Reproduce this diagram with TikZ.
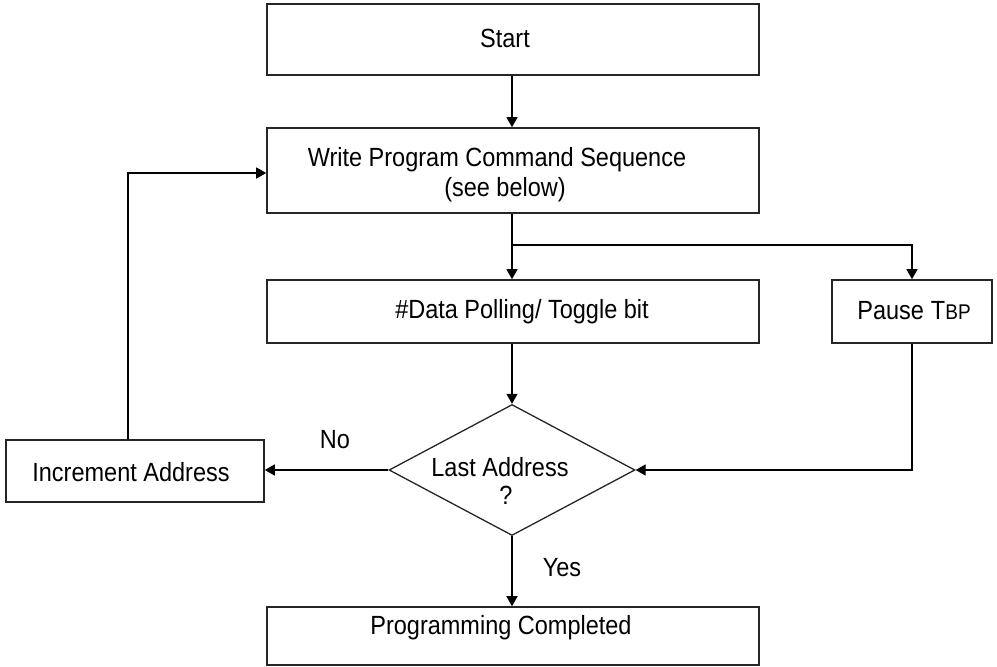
\documentclass[tikz,border=0pt]{standalone}
\usepackage{fontspec}
\usepackage{graphicx}
\setmainfont{Liberation Sans}
\usetikzlibrary{arrows.meta,shapes.geometric}
\newcommand{\tallt}[1]{\scalebox{1}[1.12]{#1}}
\begin{document}
\begin{tikzpicture}[x=1pt,y=-1pt,
  box/.style={draw=black!85, line width=1.6pt, rectangle, inner sep=0pt},
  conn/.style={line width=1.3pt, -{Triangle[length=10pt,width=11pt]}},
  plainline/.style={line width=1.3pt},
  txt/.style={inner sep=0pt, font=\fontsize{23.5pt}{28pt}\selectfont}]
\useasboundingbox (0,0) rectangle (997,667);
% boxes
\node[box, minimum width=492pt, minimum height=71pt] (start) at (513,39.5) {};
\node[box, minimum width=492pt, minimum height=85pt] (write) at (513,170.5) {};
\node[box, minimum width=492pt, minimum height=63pt] (data) at (513,311.5) {};
\node[box, minimum width=160pt, minimum height=63pt] (pause) at (912,311.5) {};
\node[diamond, draw=black!85, line width=1.3pt, minimum width=246pt, minimum height=131pt, inner sep=0pt] (dec) at (512,470) {};
\node[box, minimum width=258pt, minimum height=62pt] (incr) at (135,471) {};
\node[box, minimum width=492pt, minimum height=58pt] (prog) at (513,636) {};
% texts
\node[txt] (tstart) at (505,38) {\tallt{Start}};
\node[txt] (twrite1) at (497,160) {\tallt{Write Program Command Sequence}};
\node[txt] (twrite2) at (505,190) {\tallt{(see below)}};
\node[txt] (tdata) at (522,312) {\tallt{\#Data Polling/ Toggle bit}};
\node[txt] (tpause) at (914,311) {\tallt{Pause\hspace{7pt}T{\fontsize{19pt}{20pt}\selectfont BP}}};
\node[txt] (tdec1) at (500,467) {\tallt{Last Address}};
\node[txt] (tdec2) at (506,495) {\tallt{?}};
\node[txt] (tincr) at (131,472) {\tallt{Increment Address}};
\node[txt] (tprog) at (501,628) {\tallt{Programming Completed}};
\node[txt] (tno) at (335,440) {\tallt{No}};
\node[txt] (tyes) at (562,568) {\tallt{Yes}};
% connectors
\coordinate (br) at (512,245);
\coordinate (loopl) at (128,173);
\draw[conn] (start.south -| 512,0) -- (write.north -| 512,0);
\draw[plainline] (write.south -| 512,0) -- (br);
\draw[conn] (br) -- (data.north -| 512,0);
\draw[conn] (br) -| (pause.north);
\draw[conn] (data.south -| 512,0) -- (dec.north);
\draw[conn] (pause.south) |- (dec.east);
\draw[conn] (dec.west) -- (incr.east |- dec.west);
\draw[conn] (incr.north -| loopl) |- (write.west |- loopl);
\draw[conn] (dec.south) -- (prog.north -| dec.south);
\end{tikzpicture}
\end{document}
